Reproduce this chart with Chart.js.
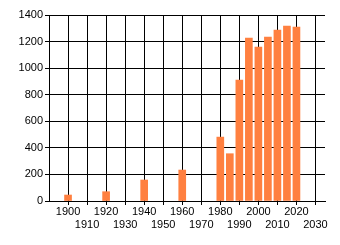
<!DOCTYPE html>
<html lang="en">
<head>
    <meta charset="UTF-8">
    <title>Chart</title>
    <script src="https://cdn.jsdelivr.net/npm/chart.js"></script>
    <style>
        html, body { margin: 0; padding: 0; background: #fff; }
        #wrap { width: 340px; height: 245px; }
    </style>
</head>
<body>
    <div id="wrap"><canvas id="chart"></canvas></div>

    <script>
        // values
        const years = [1900, 1920, 1940, 1960, 1980, 1985, 1990, 1995, 2000, 2005, 2010, 2015, 2020];
        const values = [45, 70, 158, 233, 481, 356, 910, 1226, 1159, 1234, 1287, 1317, 1309];
        const xTicks = [1900, 1910, 1920, 1930, 1940, 1950, 1960, 1970, 1980, 1990, 2000, 2010, 2020, 2030];

        const font = { family: 'Liberation Sans, Arial, sans-serif', size: 11 };

        // keep the axes from reserving extra room for overhanging labels
        function noPad(s) {
            s.paddingLeft = 0; s.paddingRight = 0; s.paddingTop = 0; s.paddingBottom = 0;
        }

        new Chart(document.getElementById('chart'), {
            type: 'bar',
            data: {
                datasets: [{
                    data: years.map((y, i) => ({ x: y, y: values[i] })),
                    backgroundColor: '#FF8040',
                    barThickness: 7
                }]
            },
            options: {
                responsive: true,
                maintainAspectRatio: false,
                animation: false,
                layout: { padding: { left: 0, right: 15, top: 15, bottom: 0 } },
                plugins: { legend: { display: false }, tooltip: { enabled: false } },
                scales: {
                    x: {
                        type: 'linear',
                        min: 1890,
                        max: 2035,
                        offset: false,
                        afterBuildTicks: s => { s.ticks = xTicks.map(v => ({ value: v })); },
                        afterFit: s => { s.height = 44; noPad(s); },
                        grid: { color: '#000', lineWidth: 1, tickLength: 4, offset: false },
                        border: { color: '#000' },
                        ticks: {
                            color: '#000',
                            font: font,
                            padding: 0,
                            maxRotation: 0,
                            autoSkip: false,
                            callback: v => (v % 20 === 0 ? String(v) : ['', String(v)])
                        }
                    },
                    y: {
                        min: 0,
                        max: 1400,
                        afterFit: s => { s.width = 49; noPad(s); },
                        grid: { color: '#000', lineWidth: 1, tickLength: 4 },
                        border: { color: '#000' },
                        ticks: { stepSize: 200, color: '#000', font: font, padding: 2, callback: v => String(v) }
                    }
                }
            }
        });
    </script>
</body>
</html>
